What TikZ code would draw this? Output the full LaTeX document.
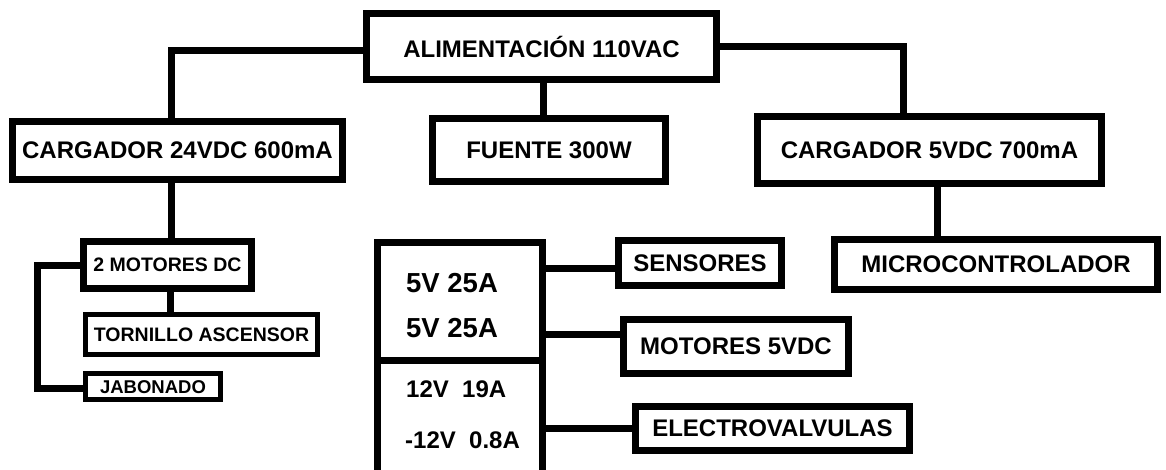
\documentclass[tikz,border=0pt]{standalone}
\usepackage{fontspec}
\setmainfont{Liberation Sans}
\begin{document}
\begin{tikzpicture}[x=1pt,y=-1pt,
  box/.style={draw=black, line width=7pt, rectangle, inner sep=0pt, fill=white,
    font=\fontsize{24}{28}\selectfont\bfseries},
  smallbox/.style={box, font=\fontsize{19.5}{23}\selectfont\bfseries},
  thinbox/.style={smallbox, line width=5pt},
  wire/.style={draw=black, line width=7pt, line join=miter},
  ptext/.style={inner sep=0pt, anchor=base west, font=\fontsize{24}{28}\selectfont\bfseries},
  btext/.style={ptext, font=\fontsize{27.5}{32}\selectfont\bfseries}]
\clip (0,0) rectangle (1166,470);
\fill[white] (0,0) rectangle (1166,470);

\node[box, minimum width=350pt, minimum height=66pt] (alim) at (541.5,46.5) {ALIMENTACIÓN 110VAC};
\node[box, minimum width=330pt, minimum height=58pt] (c24) at (177.5,150.5) {CARGADOR 24VDC 600mA};
\node[box, minimum width=233pt, minimum height=63pt] (fuente) at (549,150) {FUENTE 300W};
\node[box, minimum width=344pt, minimum height=67pt] (c5) at (929.5,150) {CARGADOR 5VDC 700mA};
\node[smallbox, minimum width=168pt, minimum height=47pt] (mot2) at (167.5,265) {2 MOTORES DC};
\node[thinbox, minimum width=232pt, minimum height=40pt] (torn) at (201.5,334.5) {TORNILLO ASCENSOR};
\node[thinbox, font=\fontsize{18.5}{22}\selectfont\bfseries, text height=13.5pt, text depth=0pt,
      minimum width=135pt, minimum height=26pt] (jab) at (153,386.5) {JABONADO};
\node[box, minimum width=163pt, minimum height=45pt] (sens) at (700,263) {SENSORES};
\node[box, minimum width=225pt, minimum height=54pt] (mot5) at (736,346.5) {MOTORES 5VDC};
\node[box, minimum width=274pt, minimum height=44pt] (elec) at (772.5,428.5) {ELECTROVALVULAS};
\node[box, minimum width=323pt, minimum height=50pt] (micro) at (996,264.5) {MICROCONTROLADOR};

% power supply block (two stacked sections, open at the bottom edge)
\node[draw=none, inner sep=0pt, minimum width=165pt, minimum height=117.5pt] (psA) at (460,301.25) {};
\node[draw=none, inner sep=0pt, minimum width=165pt, minimum height=120pt] (psB) at (460,420) {};
\draw[wire] (psB.south west) -- (psA.north west) -- (psA.north east) -- (psB.south east);
\draw[wire] (psA.south west) -- (psA.south east);
\node[btext] (v1) at (406,292) {5V 25A};
\node[btext] (v2) at (406,337) {5V 25A};
\node[ptext] (v3) at (406,397) {12V~~19A};
\node[ptext] (v4) at (405,448) {-12V~~0.8A};

% wires
\draw[wire] ([yshift=-4.5pt]alim.west) -| ([xshift=-6.5pt]c24.north);
\draw[wire] (alim.east) -| ([xshift=-26.5pt]c5.north);
\draw[wire] ([xshift=1.5pt]alim.south) -- ([xshift=1.5pt]alim.south |- fuente.north);
\draw[wire] ([xshift=-6pt]c24.south) -- ([xshift=-6pt]c24.south |- mot2.north);
\draw[wire] ([xshift=2.5pt]mot2.south) -- ([xshift=2.5pt]mot2.south |- torn.north);
\draw[wire] (mot2.west) -| ([xshift=-45.5pt,yshift=-1.5pt]jab.west) -- ([yshift=-1.5pt]jab.west);
\draw[wire] ([xshift=7.5pt]c5.south) -- ([xshift=7.5pt]c5.south |- micro.north);
\draw[wire] ([yshift=-5pt]sens.west) -- ([yshift=-5pt]sens.west -| psA.east);
\draw[wire] ([yshift=12pt]mot5.west) -- ([yshift=12pt]mot5.west -| psA.east);
\draw[wire] (elec.west) -- (elec.west -| psB.east);
\end{tikzpicture}
\end{document}
